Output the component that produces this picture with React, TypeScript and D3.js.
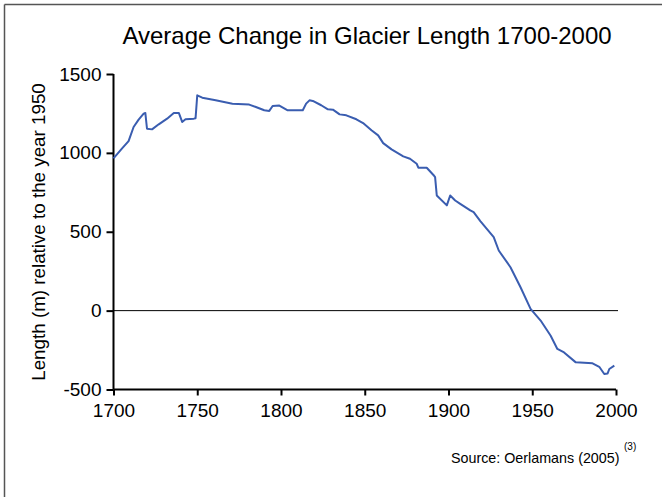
import React, { useRef, useEffect } from "react";
import { select, scaleLinear, line, axisLeft, axisBottom } from "d3";

const years = [
  1700, 1705, 1709, 1712, 1715, 1718, 1719, 1720, 1723, 1727, 1732, 1736, 1739,
  1741, 1743, 1748, 1749, 1750, 1753, 1761, 1771, 1781, 1785, 1790, 1793, 1795,
  1799, 1804, 1813, 1815, 1817, 1819, 1824, 1828, 1831, 1835, 1839, 1845, 1849,
  1854, 1858, 1861, 1866, 1873, 1877, 1881, 1882, 1887, 1891, 1892, 1893, 1899,
  1901, 1904, 1907, 1913, 1915, 1919, 1927, 1930, 1937, 1943, 1949, 1955, 1961,
  1965, 1969, 1976, 1986, 1990, 1993, 1995, 1996, 1999,
];
const lengths = [
  965, 1027, 1075, 1164, 1211, 1249, 1253, 1153, 1149, 1181, 1217, 1253, 1253,
  1196, 1213, 1217, 1220, 1365, 1350, 1333, 1312, 1306, 1291, 1270, 1266, 1297,
  1300, 1270, 1270, 1312, 1333, 1329, 1302, 1276, 1274, 1244, 1238, 1213, 1189,
  1143, 1111, 1062, 1022, 978, 963, 931, 906, 906, 860, 846, 730, 667,
  730, 698, 677, 635, 624, 568, 466, 381, 275, 148, 11, -63, -159,
  -243, -265, -328, -334, -356, -402, -398, -370, -349,
];
const xTicks = [1700, 1750, 1800, 1850, 1900, 1950, 2000];
const yTicks = [-500, 0, 500, 1000, 1500];

const font = "'Liberation Sans', Arial, sans-serif";

function GlacierChart() {
  const svgRef = useRef<SVGSVGElement>(null);

  useEffect(() => {
    const svg = select(svgRef.current);
    svg.selectAll("*").remove();

    const x = scaleLinear().domain([1700, 2000]).range([113.5, 616]);
    const y = scaleLinear().domain([-500, 1500]).range([389.5, 74]);

    // frame (only top and left edges show in the original)
    svg.append("line").attr("x1", 4.5).attr("x2", 662).attr("y1", 4.5).attr("y2", 4.5)
      .attr("stroke", "#555").attr("stroke-width", 1.5);
    svg.append("line").attr("x1", 4.5).attr("x2", 4.5).attr("y1", 4.5).attr("y2", 497)
      .attr("stroke", "#555").attr("stroke-width", 1.5);

    svg.append("text")
      .attr("x", 367).attr("y", 44)
      .attr("text-anchor", "middle")
      .attr("font-family", font).attr("font-size", 24)
      .text("Average Change in Glacier Length 1700-2000");

    // zero line
    svg.append("line")
      .attr("x1", x(1700)).attr("x2", 618)
      .attr("y1", y(0)).attr("y2", y(0))
      .attr("stroke", "#000").attr("stroke-width", 1);

    const yAxis = svg.append("g")
      .attr("transform", `translate(${x(1700)},0)`)
      .call(axisLeft(y).tickValues(yTicks).tickFormat((d: any) => String(d)).tickSize(7).tickPadding(5));
    const xAxis = svg.append("g")
      .attr("transform", `translate(0,${y(-500)})`)
      .call(axisBottom(x).tickValues(xTicks).tickFormat((d: any) => String(d)).tickSize(6).tickPadding(8));

    [yAxis, xAxis].forEach((g) => {
      g.select(".domain").attr("stroke", "#000").attr("stroke-width", 2);
      g.selectAll(".tick line").attr("stroke", "#000").attr("stroke-width", 2);
      g.selectAll(".tick text")
        .attr("font-family", font).attr("font-size", 19).attr("fill", "#000");
    });
    xAxis.select(".domain").attr("d", `M${x(1700)},0H${x(2000)}`);
    yAxis.select(".domain").attr("d", `M0,${y(-500)}V${y(1500)}`);

    const path = line<number>()
      .x((d, i) => x(years[i]))
      .y((d) => y(d));

    svg.append("path")
      .datum(lengths)
      .attr("fill", "none")
      .attr("stroke", "#3a5db0")
      .attr("stroke-width", 2)
      .attr("stroke-linejoin", "round")
      .attr("d", path);

    svg.append("text")
      .attr("transform", `translate(45,232) rotate(-90)`)
      .attr("text-anchor", "middle")
      .attr("font-family", font).attr("font-size", 18.8)
      .text("Length (m) relative to the year 1950");

    svg.append("text")
      .attr("x", 451).attr("y", 463)
      .attr("font-family", font).attr("font-size", 14.3)
      .text("Source: Oerlamans (2005)");
    svg.append("text")
      .attr("x", 624).attr("y", 450)
      .attr("font-family", font).attr("font-size", 10)
      .text("(3)");
  }, []);

  return (
    <svg
      ref={svgRef}
      width={662}
      height={497}
      style={{ position: "absolute", left: 0, top: 0, background: "#fff" }}
    />
  );
}

export default function App() {
  return <GlacierChart />;
}
